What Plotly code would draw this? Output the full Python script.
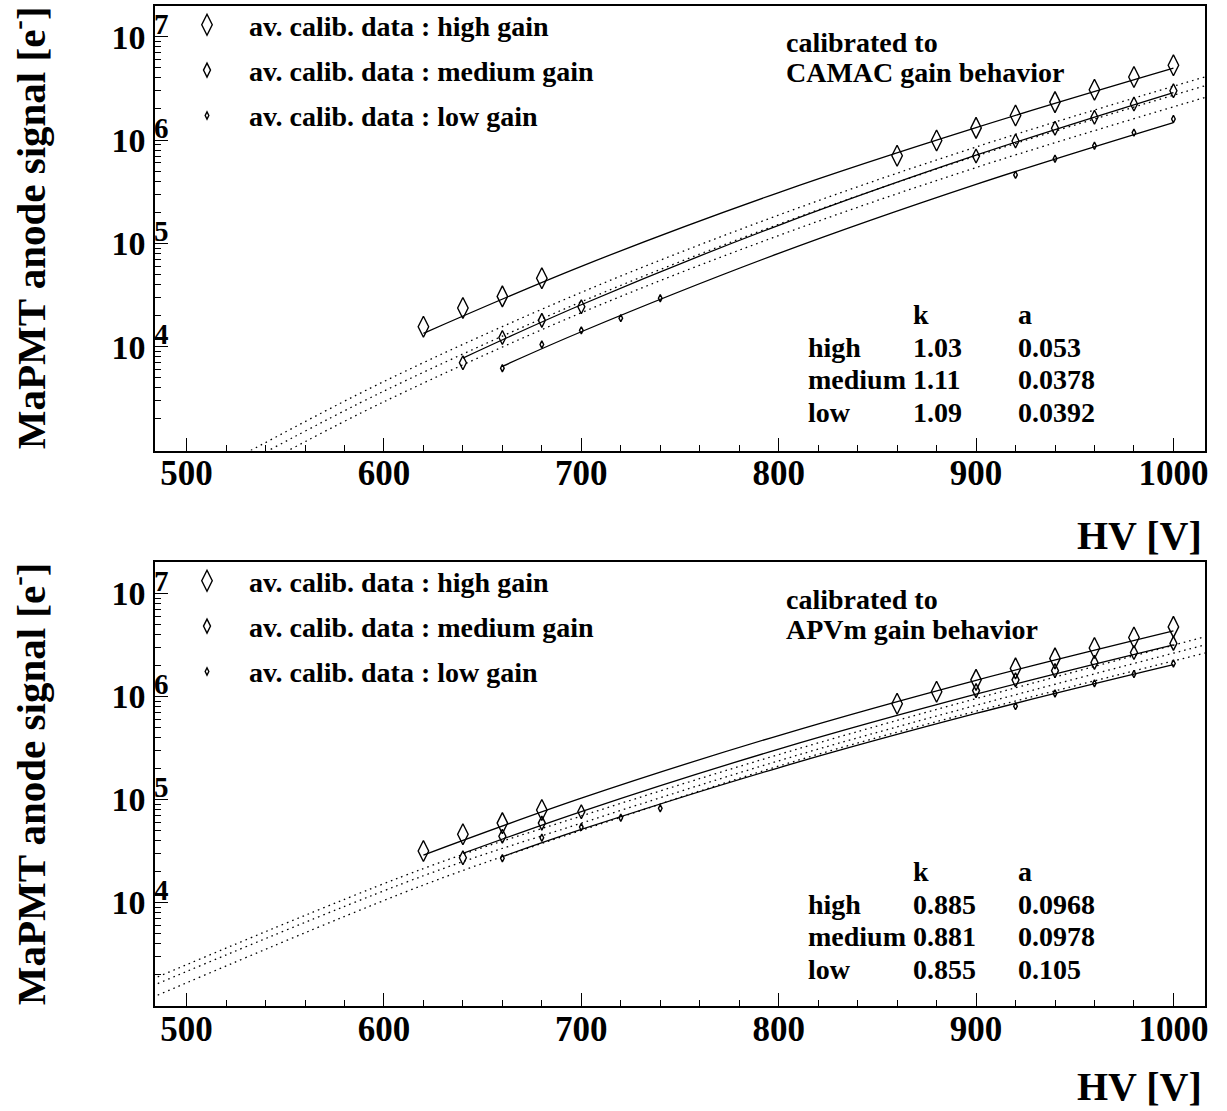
import plotly.graph_objects as go

W, H = 1227, 1111
FONT = "Liberation Serif, Times New Roman, serif"

# ---------------- data ----------------
hv_high = [620, 640, 660, 680, 860, 880, 900, 920, 940, 960, 980, 1000]
hv_medium = [640, 660, 680, 700, 900, 920, 940, 960, 980, 1000]
hv_low = [660, 680, 700, 720, 740, 920, 940, 960, 980, 1000]

# panel 1: calibrated to CAMAC gain behavior
camac_high = [1.56e4, 2.37e4, 3.07e4, 4.6e4, 7.05e5, 9.9e5, 1.31e6, 1.73e6, 2.33e6, 3.07e6, 4.07e6, 5.3e6]
camac_medium = [7.0e3, 1.23e4, 1.8e4, 2.44e4, 7.0e5, 9.8e5, 1.30e6, 1.66e6, 2.23e6, 3.0e6]
camac_low = [6.2e3, 1.05e4, 1.44e4, 1.89e4, 2.95e4, 4.6e5, 6.6e5, 8.8e5, 1.18e6, 1.6e6]

# panel 2: calibrated to APVm gain behavior
apvm_high = [3.16e4, 4.6e4, 5.9e4, 7.9e4, 8.5e5, 1.11e6, 1.45e6, 1.87e6, 2.34e6, 2.95e6, 3.73e6, 4.73e6]
apvm_medium = [2.72e4, 4.4e4, 5.9e4, 7.6e4, 1.14e6, 1.45e6, 1.78e6, 2.14e6, 2.67e6, 3.27e6]
apvm_low = [2.69e4, 4.25e4, 5.4e4, 6.65e4, 8.2e4, 8.05e5, 1.07e6, 1.34e6, 1.65e6, 2.09e6]

# fitted curves (log10 of signal)
fit_hv_high = [620, 700, 800, 900, 1000]
fit_hv_medium = [640, 700, 800, 900, 1000]
fit_hv_low = [660, 700, 800, 900, 1000]
camac_fit_high_log = [4.13, 4.778, 5.492, 6.120, 6.695]
camac_fit_medium_log = [3.89, 4.406, 5.175, 5.853, 6.460]
camac_fit_low_log = [3.81, 4.145, 4.903, 5.571, 6.169]
apvm_fit_high_log = [4.461, 5.013, 5.621, 6.157, 6.636]
apvm_fit_medium_log = [4.477, 4.883, 5.489, 6.022, 6.501]
apvm_fit_low_log = [4.445, 4.709, 5.308, 5.835, 6.308]

# reference (dotted) curves
camac_ref_hv = [[530, 600, 700, 800, 900, 1020],
                [540, 600, 700, 800, 900, 1020],
                [550, 600, 700, 800, 900, 1020]]
camac_ref_log = [[2.97, 3.664, 4.526, 5.274, 5.933, 6.634],
                 [2.98, 3.571, 4.435, 5.185, 5.845, 6.548],
                 [2.98, 3.468, 4.329, 5.076, 5.734, 6.435]]
apvm_ref_hv = [[480, 620, 700, 822, 1020],
               [480, 620, 700, 822, 1020],
               [480, 620, 700, 822, 1020]]
apvm_ref_log = [[3.235, 4.33, 4.84, 5.56, 6.60],
                [3.17, 4.26, 4.77, 5.50, 6.52],
                [3.057, 4.17, 4.70, 5.45, 6.44]]

gain_labels = ["high", "medium", "low"]
k_camac = ["1.03", "1.11", "1.09"]
a_camac = ["0.053", "0.0378", "0.0392"]
k_apvm = ["0.885", "0.881", "0.855"]
a_apvm = ["0.0968", "0.0978", "0.105"]
note_line1 = ["calibrated to", "calibrated to"]
note_line2 = ["CAMAC gain behavior", "APVm gain behavior"]
decades = [4, 5, 6, 7]

# ---------------- helpers ----------------
def fx(px):
    return px / W


def fy(py):
    return 1 - py / H


PANEL_TOP = [4.7, 562]
PANEL_BOT = [450, 1006]
OFF = [0, 557]

fig = go.Figure()

marker_sizes = [15, 10, 5.2]
series_names = ["av. calib. data : high gain", "av. calib. data : medium gain", "av. calib. data : low gain"]

panels = [
    dict(hv=[hv_high, hv_medium, hv_low], val=[camac_high, camac_medium, camac_low],
         fit=[camac_fit_high_log, camac_fit_medium_log, camac_fit_low_log],
         ref_hv=camac_ref_hv, ref=camac_ref_log, k=k_camac, a=a_camac),
    dict(hv=[hv_high, hv_medium, hv_low], val=[apvm_high, apvm_medium, apvm_low],
         fit=[apvm_fit_high_log, apvm_fit_medium_log, apvm_fit_low_log],
         ref_hv=apvm_ref_hv, ref=apvm_ref_log, k=k_apvm, a=a_apvm),
]
fit_hvs = [fit_hv_high, fit_hv_medium, fit_hv_low]


def tfont(size):
    return dict(size=size, family=FONT, color="black", weight="bold")


for p, pan in enumerate(panels):
    xa = "x" if p == 0 else "x2"
    ya = "y" if p == 0 else "y2"
    lg = "legend" if p == 0 else "legend2"
    # dotted reference curves
    for rh, rl in zip(pan["ref_hv"], pan["ref"]):
        fig.add_trace(go.Scatter(x=rh, y=[10 ** v for v in rl], mode="lines",
                                 line=dict(color="black", width=1.3, dash="1.6px,4px", shape="spline"),
                                 xaxis=xa, yaxis=ya, showlegend=False, hoverinfo="skip"))
    # fitted solid curves
    for i in range(3):
        fig.add_trace(go.Scatter(x=fit_hvs[i], y=[10 ** v for v in pan["fit"][i]], mode="lines",
                                 line=dict(color="black", width=1.3, shape="spline"),
                                 xaxis=xa, yaxis=ya, showlegend=False, hoverinfo="skip"))
    # data markers
    for i in range(3):
        fig.add_trace(go.Scatter(x=pan["hv"][i], y=pan["val"][i], mode="markers",
                                 name=series_names[i], legend=lg, legendgroup=f"{p}{i}",
                                 marker=dict(symbol="diamond-tall-open", size=marker_sizes[i],
                                             color="black", line=dict(color="black", width=1.4)),
                                 xaxis=xa, yaxis=ya))

    # note text
    fig.add_annotation(x=fx(784), y=fy(OFF[p] + 42), xref="paper", yref="paper",
                       text=note_line1[p], showarrow=False, xanchor="left", yanchor="middle",
                       font=tfont(28))
    fig.add_annotation(x=fx(784), y=fy(OFF[p] + 72), xref="paper", yref="paper",
                       text=note_line2[p], showarrow=False, xanchor="left", yanchor="middle",
                       font=tfont(28))
    # parameter table
    rows_y = [314, 347, 379, 412]
    for txt, xx in (("k", 911), ("a", 1016)):
        fig.add_annotation(x=fx(xx), y=fy(OFF[p] + rows_y[0]), xref="paper", yref="paper",
                           text=txt, showarrow=False, xanchor="left", yanchor="middle",
                           font=tfont(28))
    for i in range(3):
        for txt, xx in ((gain_labels[i], 806), (pan["k"][i], 911), (pan["a"][i], 1016)):
            fig.add_annotation(x=fx(xx), y=fy(OFF[p] + rows_y[i + 1]), xref="paper", yref="paper",
                               text=txt, showarrow=False, xanchor="left", yanchor="middle",
                               font=tfont(28))
    # axis titles
    if p == 0:
        fig.add_annotation(x=fx(1204), y=fy(535), xref="paper", yref="paper",
                           text="HV [V]", showarrow=False, xanchor="right", yanchor="middle",
                           font=tfont(40))
    else:
        fig.add_annotation(x=fx(1204), y=0, xref="paper", yref="paper",
                           text="HV [V]", showarrow=False, xanchor="right", yanchor="bottom",
                           font=tfont(40))
    fig.add_annotation(x=fx(28), y=fy((PANEL_TOP[p] + PANEL_BOT[p]) / 2), xref="paper", yref="paper",
                       text="MaPMT anode signal [e<sup>-</sup>]", textangle=-90, showarrow=False,
                       xanchor="center", yanchor="middle", font=tfont(41))

minor_y = [m * 10 ** d for d in range(3, 7) for m in range(2, 10)]

common_x = dict(range=[484, 1016], tickmode="array", tickvals=[500, 600, 700, 800, 900, 1000],
                ticks="inside", ticklen=13, tickwidth=1.3, tickcolor="black",
                minor=dict(dtick=20, tick0=0, ticks="inside", ticklen=6, tickwidth=1.2, tickcolor="black"),
                showline=True, linecolor="black", linewidth=1.6, mirror=True, showgrid=False,
                zeroline=False, automargin=False, ticklabelstandoff=-9,
                tickfont=tfont(35))
common_y = dict(type="log", range=[2.995, 7.30], tickmode="array",
                tickvals=[10 ** d for d in decades],
                ticktext=[f"10 <sup><span style='font-size:29px'>{d}</span></sup>" for d in decades],
                ticks="inside", ticklen=13, tickwidth=1.3, tickcolor="black",
                minor=dict(tickmode="array", tickvals=minor_y, ticks="inside", ticklen=6,
                           tickwidth=1.2, tickcolor="black"),
                showline=True, linecolor="black", linewidth=1.6, mirror=True, showgrid=False,
                zeroline=False, automargin=False, ticklabelstandoff=-22,
                tickfont=tfont(34))

dom_x = [fx(155), fx(1205)]
legend_common = dict(xanchor="left", yanchor="top", bgcolor="rgba(0,0,0,0)",
                     borderwidth=0, itemwidth=74, tracegroupgap=6, itemclick=False,
                     font=tfont(28))
fig.update_layout(
    width=W, height=H, margin=dict(l=0, r=0, t=0, b=0),
    paper_bgcolor="white", plot_bgcolor="white",
    font=dict(family=FONT, color="black", weight="bold"),
    xaxis=dict(domain=dom_x, anchor="y", **common_x),
    yaxis=dict(domain=[fy(PANEL_BOT[0]), fy(PANEL_TOP[0])], anchor="x", **common_y),
    xaxis2=dict(domain=dom_x, anchor="y2", **common_x),
    yaxis2=dict(domain=[fy(PANEL_BOT[1]), fy(PANEL_TOP[1])], anchor="x2", **common_y),
    legend=dict(x=fx(165), y=fy(-1), **legend_common),
    legend2=dict(x=fx(165), y=fy(-1 + 557), **legend_common),
    showlegend=True,
)

fig.write_html("out.html")
